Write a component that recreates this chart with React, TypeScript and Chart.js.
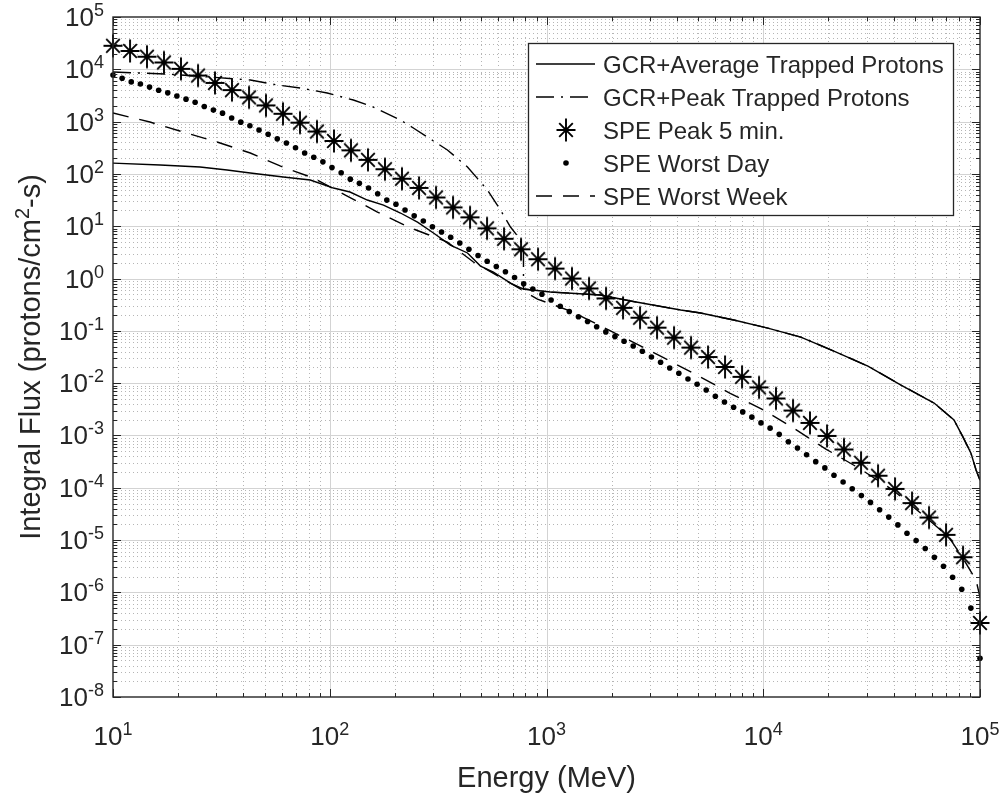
import React, { useEffect, useRef } from 'react';
import { Chart, registerables } from 'chart.js';

Chart.register(...registerables);

// ---------------- data ----------------
const avgEnergy = [10, 16.5, 25.2, 33.6, 43.0, 61.0, 81.3, 104, 124, 149, 177, 212, 254, 301, 360, 432, 496, 569, 682, 783, 1043, 1775, 2443, 4159, 5140, 7311, 10495, 14900, 21180, 30400, 43200, 61400, 75900, 83500, 90800, 95900, 100000];
const avgFlux = [161, 148, 136, 119, 104, 87.3, 76.4, 53.7, 45.1, 31.7, 25.4, 17.9, 12.0, 7.41, 4.37, 3.08, 1.73, 1.33, 0.82, 0.63, 0.552, 0.484, 0.372, 0.25, 0.219, 0.161, 0.113, 0.0761, 0.0411, 0.0212, 9.2e-3, 4.17e-3, 1.97e-3, 9.3e-4, 4.6e-4, 2.18e-4, 1.4e-4];

const peakTrapEnergy = [10, 17.7, 28.0, 43.0, 57.2, 73.0, 97.3, 128.5, 159, 212, 243, 349, 432, 534, 613, 682, 735, 783, 783, 1043, 1775, 2443, 4159, 5140, 7311, 10495, 14900, 21180, 30400, 43200, 61400, 75900, 83500, 90800, 95900, 100000];
const peakTrapFlux = [8870, 8130, 7130, 6240, 5010, 4390, 3520, 2590, 1900, 1070, 755, 287, 136, 49.2, 20.4, 9.66, 6.5, 4.18, 0.63, 0.552, 0.484, 0.372, 0.25, 0.219, 0.161, 0.113, 0.0761, 0.0411, 0.0212, 9.2e-3, 4.17e-3, 1.97e-3, 9.3e-4, 4.6e-4, 2.18e-4, 1.4e-4];

const peak5Energy = [10, 11.98, 14.35, 17.19, 20.59, 24.67, 29.55, 35.4, 42.41, 50.8, 60.85, 72.9, 87.33, 104.6, 125.3, 150.1, 179.8, 215.4, 258.1, 309.2, 370.4, 443.7, 531.5, 636.7, 762.8, 913.8, 1095, 1311, 1571, 1882, 2254, 2701, 3235, 3875, 4642, 5561, 6662, 7981, 9559, 11450, 13720, 16430, 19690, 23580, 28250, 33840, 40540, 48570, 58180, 69700, 83500, 100000];
const peak5Flux = [2.82e4, 2.24e4, 1.74e4, 1.35e4, 1.02e4, 7.6e3, 5.5e3, 4.0e3, 2.9e3, 2.04e3, 1.41e3, 955, 646, 427, 282, 186, 123, 81, 54, 35.5, 22.9, 14.8, 9.1, 5.75, 3.63, 2.34, 1.55, 1.0, 0.646, 0.417, 0.275, 0.178, 0.115, 0.0741, 0.0479, 0.0316, 0.0204, 0.0132, 8.3e-3, 5.1e-3, 3.0e-3, 1.74e-3, 9.8e-4, 5.4e-4, 3.0e-4, 1.7e-4, 9.5e-5, 5.1e-5, 2.7e-5, 1.26e-5, 4.7e-6, 2.6e-7];

const worstDayEnergy = [10, 11.02, 12.14, 13.38, 14.74, 16.24, 17.89, 19.71, 21.72, 23.93, 26.37, 29.05, 32.01, 35.27, 38.86, 42.81, 47.17, 51.97, 57.26, 63.1, 69.52, 76.6, 84.39, 92.98, 102.4, 112.9, 124.4, 137.0, 151.0, 166.4, 183.3, 202.0, 222.5, 245.2, 270.2, 297.6, 327.9, 361.3, 398.1, 438.6, 483.3, 532.5, 586.7, 646.4, 712.2, 784.7, 864.6, 952.7, 1050, 1157, 1274, 1404, 1547, 1704, 1878, 2069, 2280, 2512, 2768, 3049, 3360, 3702, 4079, 4494, 4952, 5456, 6011, 6623, 7298, 8041, 8859, 9761, 10755, 11850, 13056, 14385, 15849, 17463, 19240, 21199, 23357, 25735, 28355, 31241, 34422, 37927, 41787, 46041, 50729, 55893, 61583, 67852, 74760, 82370, 90756, 100000];
const worstDayFlux = [7.8e3, 6.76e3, 5.75e3, 5.25e3, 4.57e3, 3.98e3, 3.55e3, 3.09e3, 2.69e3, 2.34e3, 1.95e3, 1.66e3, 1.45e3, 1.17e3, 977, 832, 692, 575, 468, 389, 316, 251, 209, 170, 132, 105, 79.4, 66.1, 53.7, 41.7, 31.6, 26.3, 20.4, 15.8, 12.6, 9.77, 7.76, 6.17, 4.79, 3.63, 2.75, 2.14, 1.7, 1.35, 1.05, 0.794, 0.631, 0.501, 0.389, 0.295, 0.234, 0.186, 0.151, 0.12, 0.0955, 0.0776, 0.0631, 0.0513, 0.0407, 0.0316, 0.0251, 0.0195, 0.0155, 0.012, 9.55e-3, 7.41e-3, 5.62e-3, 4.37e-3, 3.47e-3, 2.82e-3, 2.24e-3, 1.74e-3, 1.38e-3, 1.05e-3, 7.59e-4, 5.75e-4, 4.27e-4, 3.16e-4, 2.4e-4, 1.74e-4, 1.29e-4, 9.55e-5, 7.08e-5, 5.25e-5, 3.8e-5, 2.75e-5, 1.95e-5, 1.35e-5, 9.77e-6, 6.92e-6, 4.68e-6, 3.16e-6, 1.95e-6, 1.15e-6, 5.01e-7, 5.5e-8];

const worstWeekEnergy = [10, 14.8, 21.1, 30.2, 43.0, 59.0, 83.9, 118, 166, 230, 349, 460, 633, 908, 1291, 1933, 3290, 5140, 7000, 9840, 14000, 19450, 27600, 39600, 57500, 71900, 84400, 95900, 100000];
const worstWeekFlux = [1460, 982, 632, 407, 251, 142, 83.5, 39.5, 18.7, 9.67, 4.99, 2.07, 0.977, 0.405, 0.239, 0.104, 0.0344, 0.0131, 6.47e-3, 3.2e-3, 1.33e-3, 5.5e-4, 2.38e-4, 9.04e-5, 2.52e-5, 1.14e-5, 4.15e-6, 1.72e-6, 8e-7];

const seriesLabels = ['GCR+Average Trapped Protons', 'GCR+Peak Trapped Protons', 'SPE Peak 5 min.', 'SPE Worst Day', 'SPE Worst Week'];
const xTickExponents = ['1', '2', '3', '4', '5'];
const yTickExponents = ['5', '4', '3', '2', '1', '0', '-1', '-2', '-3', '-4', '-5', '-6', '-7', '-8'];
const xTitle = 'Energy (MeV)';
const yTitleParts = ['Integral Flux (protons/cm', '2', '-s)'];

// ---------------- styling ----------------
const FAMILY = "'Liberation Sans', Arial, Helvetica, sans-serif";
const AX = '#262626';
const TICK_PX = 26;
const SUP_PX = 18;
const TITLE_PX = 29;
const LEGEND_PX = 24;
const LINE_W = 1.4;
const DASH_DOT = [18, 7, 2, 7];
const DASHED = [16, 11];

const pts = (xs: number[], ys: number[]) => xs.map((x, i) => ({ x, y: ys[i] }));

function makeStar(): HTMLCanvasElement {
  const c = document.createElement('canvas');
  c.width = 28;
  c.height = 28;
  const g = c.getContext('2d')!;
  g.strokeStyle = '#000';
  g.lineWidth = 1.9;
  const cx = 14, cy = 14, d = 6.8;
  g.beginPath();
  g.moveTo(cx, cy - 11.5); g.lineTo(cx, cy + 11.5);
  g.moveTo(cx - 9.5, cy); g.lineTo(cx + 9.5, cy);
  g.moveTo(cx - d, cy - d); g.lineTo(cx + d, cy + d);
  g.moveTo(cx - d, cy + d); g.lineTo(cx + d, cy - d);
  g.stroke();
  return c;
}

function drawPow(ctx: CanvasRenderingContext2D, exp: string, x: number, baseline: number, align: 'center' | 'right') {
  ctx.font = `${TICK_PX}px ${FAMILY}`;
  const wb = ctx.measureText('10').width;
  ctx.font = `${SUP_PX}px ${FAMILY}`;
  const we = ctx.measureText(exp).width;
  const total = wb + we;
  const left = align === 'center' ? x - total / 2 : x - total;
  ctx.textAlign = 'left';
  ctx.textBaseline = 'alphabetic';
  ctx.font = `${TICK_PX}px ${FAMILY}`;
  ctx.fillText('10', left, baseline);
  ctx.font = `${SUP_PX}px ${FAMILY}`;
  ctx.fillText(exp, left + wb, baseline - 10);
}

function makePlugin(star: HTMLCanvasElement) {
  return {
    id: 'matlabLook',
    beforeDatasetsDraw(chart: any) {
      const { ctx, chartArea: a, scales } = chart;
      const xs = scales.x, ys = scales.y;
      ctx.save();
      ctx.fillStyle = '#fff';
      ctx.fillRect(a.left, a.top, a.right - a.left, a.bottom - a.top);
      // minor grid
      ctx.strokeStyle = '#b5b5b5';
      ctx.lineWidth = 1;
      ctx.setLineDash([1, 3]);
      ctx.beginPath();
      for (let d = 1; d <= 4; d++) {
        for (let k = 2; k <= 9; k++) {
          const px = Math.round(xs.getPixelForValue(k * Math.pow(10, d))) + 0.5;
          ctx.moveTo(px, a.top); ctx.lineTo(px, a.bottom);
        }
      }
      for (let d = -8; d <= 4; d++) {
        for (let k = 2; k <= 9; k++) {
          const py = Math.round(ys.getPixelForValue(k * Math.pow(10, d))) + 0.5;
          ctx.moveTo(a.left, py); ctx.lineTo(a.right, py);
        }
      }
      ctx.stroke();
      // major grid
      ctx.setLineDash([]);
      ctx.strokeStyle = '#d3d3d3';
      ctx.beginPath();
      for (let d = 2; d <= 4; d++) {
        const px = Math.round(xs.getPixelForValue(Math.pow(10, d))) + 0.5;
        ctx.moveTo(px, a.top); ctx.lineTo(px, a.bottom);
      }
      for (let d = -7; d <= 4; d++) {
        const py = Math.round(ys.getPixelForValue(Math.pow(10, d))) + 0.5;
        ctx.moveTo(a.left, py); ctx.lineTo(a.right, py);
      }
      ctx.stroke();
      ctx.restore();
    },
    afterDatasetsDraw(chart: any) {
      const { ctx, chartArea: a, scales } = chart;
      const xs = scales.x, ys = scales.y;
      ctx.save();
      ctx.strokeStyle = AX;
      ctx.lineWidth = 1.4;
      ctx.setLineDash([]);
      ctx.strokeRect(a.left, a.top, a.right - a.left, a.bottom - a.top);
      // ticks
      ctx.lineWidth = 1;
      ctx.beginPath();
      for (let d = 1; d <= 5; d++) {
        for (let k = 1; k <= 9; k++) {
          if (d === 5 && k > 1) break;
          const len = k === 1 ? 8 : 4;
          const px = Math.round(xs.getPixelForValue(k * Math.pow(10, d))) + 0.5;
          ctx.moveTo(px, a.bottom); ctx.lineTo(px, a.bottom - len);
          ctx.moveTo(px, a.top); ctx.lineTo(px, a.top + len);
        }
      }
      for (let d = -8; d <= 5; d++) {
        for (let k = 1; k <= 9; k++) {
          if (d === 5 && k > 1) break;
          const len = k === 1 ? 8 : 4;
          const py = Math.round(ys.getPixelForValue(k * Math.pow(10, d))) + 0.5;
          ctx.moveTo(a.left, py); ctx.lineTo(a.left + len, py);
          ctx.moveTo(a.right, py); ctx.lineTo(a.right - len, py);
        }
      }
      ctx.stroke();
      // tick labels
      ctx.fillStyle = AX;
      xTickExponents.forEach((e) => {
        const px = xs.getPixelForValue(Math.pow(10, Number(e)));
        drawPow(ctx, e, px, a.bottom + 48, 'center');
      });
      yTickExponents.forEach((e) => {
        const py = ys.getPixelForValue(Math.pow(10, Number(e)));
        drawPow(ctx, e, a.left - 9, py + 9, 'right');
      });
      // axis titles
      ctx.font = `${TITLE_PX}px ${FAMILY}`;
      ctx.textAlign = 'center';
      ctx.textBaseline = 'alphabetic';
      ctx.fillText(xTitle, (a.left + a.right) / 2, 787);
      ctx.save();
      ctx.translate(40, (a.top + a.bottom) / 2);
      ctx.rotate(-Math.PI / 2);
      ctx.textAlign = 'left';
      const big = `${TITLE_PX}px ${FAMILY}`;
      const small = `${Math.round(TITLE_PX * 0.7)}px ${FAMILY}`;
      ctx.font = big;
      const w0 = ctx.measureText(yTitleParts[0]).width;
      const w2 = ctx.measureText(yTitleParts[2]).width;
      ctx.font = small;
      const w1 = ctx.measureText(yTitleParts[1]).width;
      let cx = -(w0 + w1 + w2) / 2;
      ctx.font = big;
      ctx.fillText(yTitleParts[0], cx, 0);
      cx += w0;
      ctx.font = small;
      ctx.fillText(yTitleParts[1], cx, -11);
      cx += w1;
      ctx.font = big;
      ctx.fillText(yTitleParts[2], cx, 0);
      ctx.restore();
      ctx.restore();
    },
    afterDraw(chart: any) {
      const { ctx } = chart;
      ctx.save();
      const L = 528.5, T = 43.5, R = 953.5, B = 215.5;
      ctx.fillStyle = '#fff';
      ctx.fillRect(L, T, R - L, B - T);
      ctx.strokeStyle = AX;
      ctx.lineWidth = 1.3;
      ctx.setLineDash([]);
      ctx.strokeRect(L, T, R - L, B - T);
      const rows = [64, 97, 130, 163, 196];
      const x0 = 536, x1 = 595, xm = 566;
      ctx.strokeStyle = '#000';
      ctx.lineWidth = LINE_W;
      ctx.beginPath(); ctx.moveTo(x0, rows[0]); ctx.lineTo(x1, rows[0]); ctx.stroke();
      ctx.setLineDash(DASH_DOT);
      ctx.beginPath(); ctx.moveTo(x0, rows[1]); ctx.lineTo(x1, rows[1]); ctx.stroke();
      ctx.setLineDash(DASHED);
      ctx.beginPath(); ctx.moveTo(x0, rows[4]); ctx.lineTo(x1, rows[4]); ctx.stroke();
      ctx.setLineDash([]);
      ctx.drawImage(star, xm - 14, rows[2] - 14);
      ctx.fillStyle = '#000';
      ctx.beginPath(); ctx.arc(xm, rows[3], 2.8, 0, Math.PI * 2); ctx.fill();
      ctx.fillStyle = AX;
      ctx.font = `${LEGEND_PX}px ${FAMILY}`;
      ctx.textAlign = 'left';
      ctx.textBaseline = 'alphabetic';
      seriesLabels.forEach((s, i) => ctx.fillText(s, 603, rows[i] + 8.5));
      ctx.restore();
    },
  };
}

export default function App() {
  const ref = useRef<HTMLCanvasElement | null>(null);
  useEffect(() => {
    document.body.style.margin = '0';
    const canvas = ref.current!;
    const star = makeStar();
    const chart = new Chart(canvas, {
      type: 'line',
      data: {
        datasets: [
          { label: seriesLabels[0], data: pts(avgEnergy, avgFlux), borderColor: '#000', borderWidth: LINE_W, pointRadius: 0, tension: 0, fill: false },
          { label: seriesLabels[1], data: pts(peakTrapEnergy, peakTrapFlux), borderColor: '#000', borderWidth: LINE_W, borderDash: DASH_DOT, pointRadius: 0, tension: 0, fill: false },
          { label: seriesLabels[2], data: pts(peak5Energy, peak5Flux), showLine: false, pointStyle: star as any, pointRadius: 9, borderColor: '#000', backgroundColor: '#000', clip: false as any },
          { label: seriesLabels[3], data: pts(worstDayEnergy, worstDayFlux), showLine: false, pointStyle: 'circle', pointRadius: 2.8, pointBorderWidth: 0, pointBackgroundColor: '#000', borderColor: '#000', backgroundColor: '#000', clip: false as any },
          { label: seriesLabels[4], data: pts(worstWeekEnergy, worstWeekFlux), borderColor: '#000', borderWidth: LINE_W, borderDash: DASHED, pointRadius: 0, tension: 0, fill: false },
        ],
      } as any,
      options: {
        animation: false,
        responsive: false,
        devicePixelRatio: 1,
        layout: { padding: { left: 113, right: 23, top: 17, bottom: 101 } },
        scales: {
          x: { type: 'logarithmic', min: 10, max: 100000, display: false },
          y: { type: 'logarithmic', min: 1e-8, max: 1e5, display: false },
        },
        plugins: { legend: { display: false }, tooltip: { enabled: false } },
        events: [],
      } as any,
      plugins: [makePlugin(star)],
    });
    return () => chart.destroy();
  }, []);
  return (
    <div style={{ width: 1003, height: 798, background: '#fff' }}>
      <canvas ref={ref} width={1003} height={798} style={{ display: 'block' }} />
    </div>
  );
}
